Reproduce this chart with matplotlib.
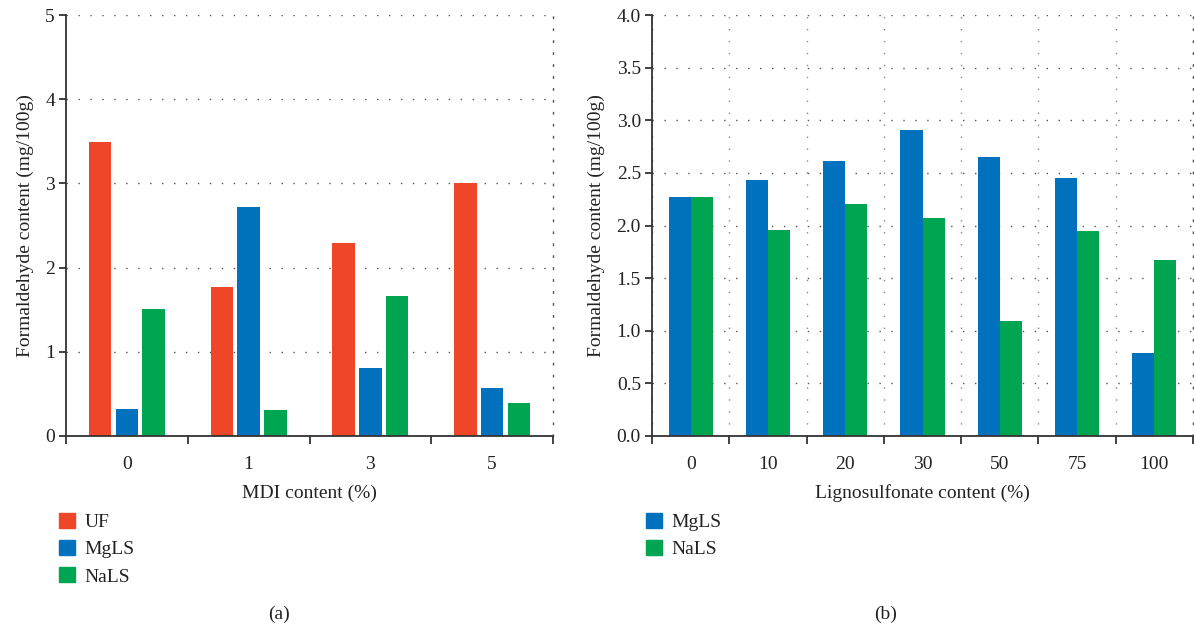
import numpy as np
import matplotlib
matplotlib.use("Agg")
import matplotlib.pyplot as plt
from matplotlib.patches import Patch

plt.rcParams["font.family"] = ["Liberation Serif", "DejaVu Serif"]
plt.rcParams["font.size"] = 14

# (a) formaldehyde content vs MDI content
mdi_labels = ["0", "1", "3", "5"]
uf_a = [3.49, 1.77, 2.29, 3.00]
mgls_a = [0.32, 2.72, 0.81, 0.57]
nals_a = [1.51, 0.31, 1.66, 0.39]

# (b) formaldehyde content vs lignosulfonate content
ls_labels = ["0", "10", "20", "30", "50", "75", "100"]
mgls_b = [2.27, 2.43, 2.61, 2.91, 2.65, 2.45, 0.79]
nals_b = [2.27, 1.96, 2.20, 2.07, 1.09, 1.95, 1.67]

RED = "#EF4629"
BLUE = "#0071BC"
GREEN = "#00A551"
AXC = "#333333"
DOTS = (0, (1, 7.6))


def style_axes(ax, labels, ymax, ystep, vgrid):
    n = len(labels)
    ax.set_xlim(-0.5, n - 0.5)
    ax.set_ylim(0, ymax)
    ax.set_xticks(np.arange(n + 1) - 0.5)
    ax.set_xticklabels([])
    ax.set_xticks(np.arange(n), minor=True)
    ax.set_xticklabels(labels, minor=True)
    ax.set_yticks(np.arange(0, ymax + 1e-9, ystep))
    ax.tick_params(axis="x", which="major", length=6, width=1.3, color=AXC)
    ax.tick_params(axis="x", which="minor", length=0, pad=14.5, labelcolor="#222")
    ax.tick_params(axis="y", length=5, width=1.3, color=AXC, pad=3, labelcolor="#222")
    ax.spines["top"].set_visible(False)
    for s in ("left", "bottom"):
        ax.spines[s].set_color(AXC)
        ax.spines[s].set_linewidth(1.3)
    ax.spines["right"].set_linestyle(DOTS)
    ax.spines["right"].set_color("#555")
    ax.spines["right"].set_linewidth(1.0)
    ax.yaxis.grid(True, linestyle=DOTS, color="#555", linewidth=1.0)
    if vgrid:
        ax.xaxis.grid(True, which="major", linestyle=DOTS, color="#888", linewidth=1.0)
    ax.set_axisbelow(True)
    ax.set_ylabel("Formaldehyde content (mg/100g)", color="#222", labelpad=8)


fig = plt.figure(figsize=(11.94, 6.29), dpi=100)
W, H = 1194, 629

ax1 = fig.add_axes([66 / W, 1 - 436 / H, (553 - 66) / W, 421 / H])
x = np.arange(len(mdi_labels))
bw, off = 0.185, 0.22
ax1.bar(x - off, uf_a, bw, color=RED)
ax1.bar(x, mgls_a, bw, color=BLUE)
ax1.bar(x + off, nals_a, bw, color=GREEN)
style_axes(ax1, mdi_labels, 5, 1, vgrid=False)
ax1.set_xlabel("MDI content (%)", color="#222", labelpad=8)

ax2 = fig.add_axes([652 / W, 1 - 436 / H, (1193 - 652) / W, 421 / H])
x = np.arange(len(ls_labels))
bw = 0.285
ax2.bar(x - bw / 2, mgls_b, bw, color=BLUE)
ax2.bar(x + bw / 2, nals_b, bw, color=GREEN)
style_axes(ax2, ls_labels, 4.0, 0.5, vgrid=True)
ax2.set_yticklabels([f"{v:.1f}" for v in np.arange(0, 4.01, 0.5)])
ax2.set_xlabel("Lignosulfonate content (%)", color="#222", labelpad=8)

leg_kw = dict(frameon=False, handlelength=0.82, handleheight=0.78,
              labelspacing=0.47, handletextpad=0.5, borderpad=0,
              borderaxespad=0, loc="upper left", labelcolor="#222")
fig.legend(handles=[Patch(color=RED, label="UF"),
                    Patch(color=BLUE, label="MgLS"),
                    Patch(color=GREEN, label="NaLS")],
           bbox_to_anchor=(59 / W, 1 - 513 / H), **leg_kw)
fig.legend(handles=[Patch(color=BLUE, label="MgLS"),
                    Patch(color=GREEN, label="NaLS")],
           bbox_to_anchor=(646 / W, 1 - 513 / H), **leg_kw)

fig.text(279 / W, 1 - 614 / H, "(a)", ha="center", va="center", color="#222")
fig.text(886 / W, 1 - 614 / H, "(b)", ha="center", va="center", color="#222")

fig.savefig("out.png", dpi=100)
